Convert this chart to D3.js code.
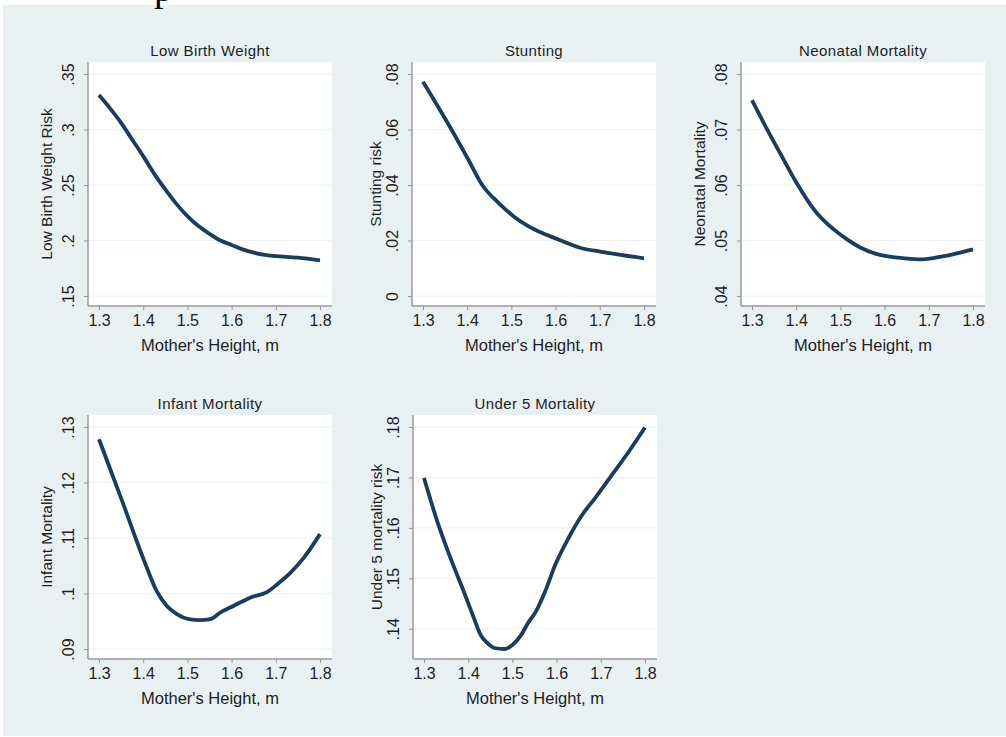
<!DOCTYPE html>
<html>
<head>
<meta charset="utf-8">
<script src="https://cdn.jsdelivr.net/npm/d3@7"></script>
<style>
  body { margin: 0; background: #fff; }
  svg text { font-family: "Liberation Sans", Arial, sans-serif; fill: #1e1e1e; }
</style>
</head>
<body>
<div id="chart"></div>
<script>
// mother's height (m) and estimated risk
const lbwHeight = [1.3, 1.325, 1.35, 1.375, 1.4, 1.425, 1.45, 1.475, 1.5, 1.525, 1.55, 1.575, 1.6, 1.625, 1.65, 1.675, 1.7, 1.75, 1.8]
const lbwRisk   = [.331, .319, .306, .291, .276, .260, .246, .233, .222, .213, .206, .200, .196, .192, .189, .187, .186, .1845, .182]

const stuntHeight = [1.3, 1.365, 1.403, 1.434, 1.472, 1.506, 1.54, 1.571, 1.609, 1.655, 1.701, 1.747, 1.8]
const stuntRisk   = [.0772, .0598, .049, .040, .0334, .0286, .025, .0226, .0202, .0174, .016, .0148, .0136]

const neoHeight = [1.3, 1.339, 1.37, 1.4, 1.446, 1.485, 1.515, 1.546, 1.585, 1.631, 1.677, 1.715, 1.754, 1.8]
const neoRisk   = [.0753, .0693, .0648, .0605, .055, .052, .0502, .0487, .0475, .0469, .0466, .0469, .0475, .0484]

const infHeight = [1.3, 1.324, 1.355, 1.385, 1.408, 1.43, 1.453, 1.476, 1.503, 1.529, 1.552, 1.575, 1.605, 1.643, 1.681, 1.704, 1.734, 1.764, 1.8]
const infRisk   = [.1278, .1227, .1161, .1095, .1047, .1005, .0978, .0963, .0954, .0952, .0954, .0966, .0978, .0993, .1003, .1017, .1038, .1065, .1107]

const u5Height = [1.3, 1.33, 1.36, 1.39, 1.413, 1.428, 1.443, 1.459, 1.482, 1.5, 1.52, 1.535, 1.553, 1.574, 1.597, 1.627, 1.658, 1.688, 1.726, 1.764, 1.8]
const u5Risk   = [.1699, .1613, .154, .1474, .1421, .1388, .1372, .1362, .136, .1368, .1388, .1411, .1434, .1474, .1527, .158, .1626, .166, .1706, .1752, .1799]

const xTicks = [1.3, 1.4, 1.5, 1.6, 1.7, 1.8]
const lbwTicks   = [.15, .2, .25, .3, .35]
const stuntTicks = [0, .02, .04, .06, .08]
const neoTicks   = [.04, .05, .06, .07, .08]
const infTicks   = [.09, .1, .11, .12, .13]
const u5Ticks    = [.14, .15, .16, .17, .18]

const titles = ['Low Birth Weight', 'Stunting', 'Neonatal Mortality', 'Infant Mortality', 'Under 5 Mortality']
const yTitles = ['Low Birth Weight Risk', 'Stunting risk', 'Neonatal Mortality', 'Infant Mortality', 'Under 5 mortality risk']
const xTitle = "Mother's Height, m"

const panels = [
  {x: lbwHeight, y: lbwRisk, ticks: lbwTicks},
  {x: stuntHeight, y: stuntRisk, ticks: stuntTicks},
  {x: neoHeight, y: neoRisk, ticks: neoTicks},
  {x: infHeight, y: infRisk, ticks: infTicks},
  {x: u5Height, y: u5Risk, ticks: u5Ticks}
]
// plot region positions; ttl = baseline offset of the y title
const layout = [
  {left: 88, top: 62, ttl: 36},
  {left: 412, top: 62, ttl: 31},
  {left: 741, top: 62, ttl: 36},
  {left: 88, top: 415, ttl: 36},
  {left: 413, top: 415, ttl: 31}
]
const W = 244, H = 244

const svg = d3.select('#chart').append('svg')
  .attr('width', 1006)
  .attr('height', 737)

svg.append('rect')
  .attr('x', 3).attr('y', 5)
  .attr('width', 1003).attr('height', 731)
  .attr('fill', '#e9f0f2')

// clipped text from the page above the figure
svg.append('text')
  .attr('x', 154).attr('y', 1)
  .style('font-family', '"Liberation Serif", serif')
  .style('font-size', '38px')
  .style('fill', '#000')
  .text('p')

function fmt(v) {
  if (v === 0) return '0'
  return d3.format('.2~f')(v).replace(/^0/, '')
}

panels.forEach((p, i) => {
  const L = layout[i]
  const g = svg.append('g').attr('transform', `translate(${L.left},${L.top})`)

  const x = d3.scaleLinear().domain([1.3, 1.8]).range([11, W - 12])
  const lo = Math.min(d3.min(p.y), d3.min(p.ticks))
  const hi = Math.max(d3.max(p.y), d3.max(p.ticks))
  const y = d3.scaleLinear().domain([lo, hi]).range([H - 10, 12])

  g.append('rect').attr('width', W).attr('height', H).attr('fill', '#fff')

  // grid
  g.selectAll('.grid').data(p.ticks).enter().append('line')
    .attr('x1', 0).attr('x2', W)
    .attr('y1', d => y(d)).attr('y2', d => y(d))
    .attr('stroke', '#eef2f2').attr('stroke-width', 1)

  const ya = g.append('g')
    .call(d3.axisLeft(y).tickValues(p.ticks).tickSize(4).tickFormat(fmt))
  const xa = g.append('g').attr('transform', `translate(0,${H})`)
    .call(d3.axisBottom(x).tickValues(xTicks).tickSize(4).tickFormat(d3.format('.1f')))

  ;[ya, xa].forEach(a => {
    a.select('.domain').attr('stroke', '#9a9a9a').attr('stroke-width', 1.5)
    a.selectAll('.tick line').attr('stroke', '#9a9a9a')
    a.selectAll('text').style('font-size', '16px').attr('fill', '#1e1e1e')
  })
  xa.selectAll('.domain').attr('d', `M0,0H${W}`)
  ya.selectAll('.domain').attr('d', `M0,0V${H}`)
  xa.selectAll('text').attr('y', 9)
  ya.selectAll('text')
    .attr('x', null).attr('dy', null)
    .attr('transform', 'translate(-14,0) rotate(-90)')
    .attr('text-anchor', 'middle')
    .attr('y', 0)

  const line = d3.line()
    .x((d, k) => x(p.x[k]))
    .y(d => y(d))
    .curve(d3.curveMonotoneX)

  g.append('path')
    .datum(p.y)
    .attr('d', line)
    .attr('fill', 'none')
    .attr('stroke', '#1a3d5f')
    .attr('stroke-width', 3.8)
    .attr('stroke-linejoin', 'round')

  g.append('text')
    .attr('x', W / 2).attr('y', -6)
    .attr('text-anchor', 'middle')
    .style('font-size', '15px')
    .style('letter-spacing', '0.4px')
    .text(titles[i])

  g.append('text')
    .attr('x', W / 2).attr('y', H + 45)
    .attr('text-anchor', 'middle')
    .style('font-size', '16.5px')
    .text(xTitle)

  g.append('text')
    .attr('transform', `translate(${-L.ttl},${H / 2}) rotate(-90)`)
    .attr('text-anchor', 'middle')
    .style('font-size', '15.5px')
    .text(yTitles[i])
})
</script>
</body>
</html>
